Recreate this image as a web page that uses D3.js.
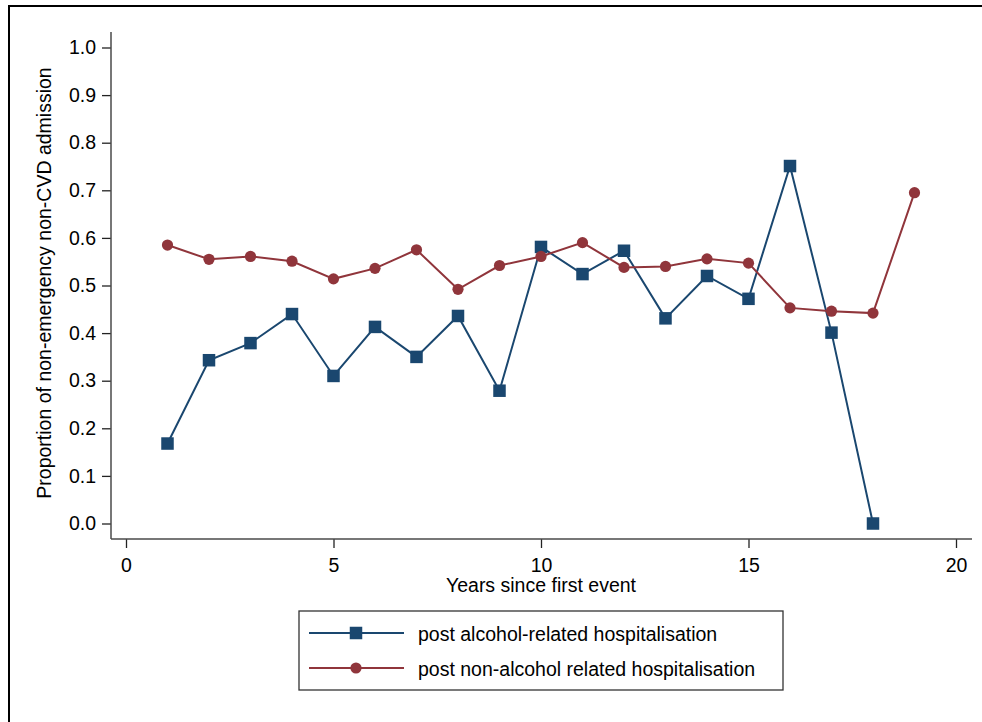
<!DOCTYPE html>
<html>
<head>
<meta charset="utf-8">
<script src="https://cdn.jsdelivr.net/npm/d3@7"></script>
<style>
  html, body { margin: 0; padding: 0; background: #fff; }
  svg { display: block; font-family: "Liberation Sans", Arial, sans-serif; }
</style>
</head>
<body>
<svg id="chart" width="982" height="722"></svg>
<script>
// Years since the first event
const years = [1, 2, 3, 4, 5, 6, 7, 8, 9, 10, 11, 12, 13, 14, 15, 16, 17, 18, 19];

// Proportion of non-emergency non-CVD admissions, by group
const alcoholRelated = [0.168, 0.343, 0.379, 0.440, 0.310, 0.413, 0.350, 0.436, 0.279,
                        0.581, 0.524, 0.573, 0.431, 0.520, 0.472, 0.751, 0.401, 0.000];
const nonAlcoholRelated = [0.585, 0.555, 0.561, 0.551, 0.514, 0.536, 0.575, 0.492, 0.542,
                           0.561, 0.590, 0.538, 0.540, 0.556, 0.547, 0.453, 0.446, 0.442, 0.695];

const xTicks = [0, 5, 10, 15, 20];
const yTicks = [0.0, 0.1, 0.2, 0.3, 0.4, 0.5, 0.6, 0.7, 0.8, 0.9, 1.0];

const seriesNames = ["post alcohol-related hospitalisation", "post non-alcohol related hospitalisation"];
const navy = "#1a476f", maroon = "#90353b";

const svg = d3.select("#chart");
const fontSize = "19.5px";

// Outer frame of the graph region
svg.append("line").attr("x1", 9).attr("x2", 982).attr("y1", 6).attr("y2", 6)
  .attr("stroke", "#000").attr("stroke-width", 2.2);
svg.append("line").attr("x1", 9).attr("x2", 9).attr("y1", 5).attr("y2", 722)
  .attr("stroke", "#000").attr("stroke-width", 2);

const x = d3.scaleLinear().domain([0, 20]).range([126, 956]);
const y = d3.scaleLinear().domain([0, 1]).range([523.5, 47.5]);

// Axes
const axisColor = "#4a4a4a";
const plotLeft = 111, plotBottom = 539, plotRight = 972, plotTop = 32;

const yAxis = svg.append("g").attr("transform", `translate(${plotLeft},0)`)
  .call(d3.axisLeft(y).tickValues(yTicks).tickFormat(d3.format(".1f")).tickSize(9).tickPadding(6));
yAxis.select(".domain").remove();
svg.append("line").attr("x1", plotLeft).attr("x2", plotLeft).attr("y1", plotTop).attr("y2", plotBottom)
  .attr("stroke", axisColor).attr("stroke-width", 1.5);

const xAxis = svg.append("g").attr("transform", `translate(0,${plotBottom})`)
  .call(d3.axisBottom(x).tickValues(xTicks).tickFormat(d3.format("d")).tickSize(9).tickPadding(10));
xAxis.select(".domain").remove();
svg.append("line").attr("x1", plotLeft).attr("x2", plotRight).attr("y1", plotBottom).attr("y2", plotBottom)
  .attr("stroke", axisColor).attr("stroke-width", 1.5);

svg.selectAll(".tick line").attr("stroke", "#222").attr("stroke-width", 1.3);
svg.selectAll(".tick text").attr("fill", "#000").style("font-size", fontSize)
  .style("font-family", "'Liberation Sans', Arial, sans-serif");

// Axis titles
svg.append("text").attr("x", 541).attr("y", 592).attr("text-anchor", "middle")
  .style("font-size", "19.5px").text("Years since first event");
svg.append("text").attr("transform", "translate(51,283) rotate(-90)").attr("text-anchor", "middle")
  .style("font-size", "19.5px").text("Proportion of non-emergency non-CVD admission");

// Series
const line = d3.line().x(d => x(d[0])).y(d => y(d[1]));
const alcData = alcoholRelated.map((v, i) => [years[i], v]);
const nonData = nonAlcoholRelated.map((v, i) => [years[i], v]);

svg.append("path").datum(alcData).attr("d", line)
  .attr("fill", "none").attr("stroke", navy).attr("stroke-width", 2);
svg.append("path").datum(nonData).attr("d", line)
  .attr("fill", "none").attr("stroke", maroon).attr("stroke-width", 2);

const sq = 12.5, rad = 5.6;
svg.append("g").selectAll("rect").data(alcData).join("rect")
  .attr("x", d => x(d[0]) - sq / 2).attr("y", d => y(d[1]) - sq / 2)
  .attr("width", sq).attr("height", sq).attr("fill", navy);
svg.append("g").selectAll("circle").data(nonData).join("circle")
  .attr("cx", d => x(d[0])).attr("cy", d => y(d[1])).attr("r", rad).attr("fill", maroon);

// Legend
const legend = svg.append("g");
legend.append("rect").attr("x", 299).attr("y", 611).attr("width", 484).attr("height", 79)
  .attr("fill", "#fff").attr("stroke", "#333").attr("stroke-width", 1.3);
const rows = [
  { name: seriesNames[0], color: navy, shape: "square", cy: 633 },
  { name: seriesNames[1], color: maroon, shape: "circle", cy: 668 }
];
rows.forEach(r => {
  legend.append("line").attr("x1", 309).attr("x2", 404).attr("y1", r.cy).attr("y2", r.cy)
    .attr("stroke", r.color).attr("stroke-width", 2);
  if (r.shape === "square") {
    legend.append("rect").attr("x", 356 - sq / 2).attr("y", r.cy - sq / 2)
      .attr("width", sq).attr("height", sq).attr("fill", r.color);
  } else {
    legend.append("circle").attr("cx", 356).attr("cy", r.cy).attr("r", rad).attr("fill", r.color);
  }
  legend.append("text").attr("x", 418).attr("y", r.cy + 7.5).style("font-size", fontSize).text(r.name);
});
</script>
</body>
</html>
